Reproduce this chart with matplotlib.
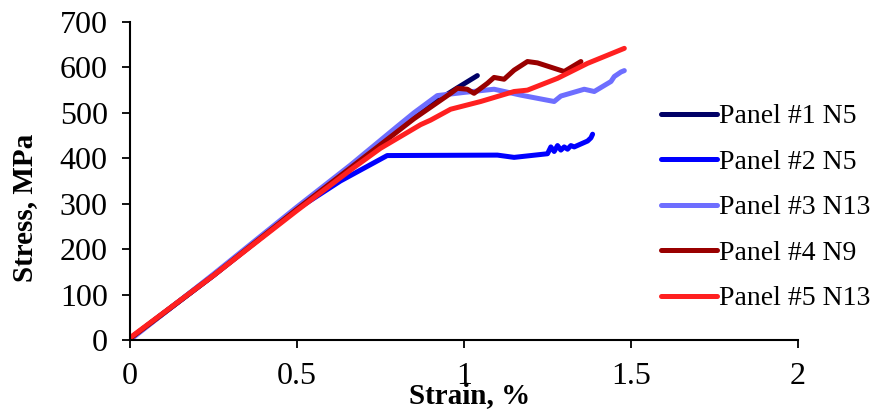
import matplotlib
matplotlib.use("Agg")
import matplotlib.pyplot as plt

# Data (strain %, stress MPa)
p1_x = [0.0, 0.25, 0.5, 0.75, 0.9, 0.98, 1.04]
p1_y = [3, 143, 290, 435, 518, 555, 582]

p2_x = [0.0, 0.25, 0.5, 0.63, 0.77, 1.10, 1.15, 1.25, 1.26, 1.27, 1.28, 1.29, 1.30, 1.31, 1.32, 1.33, 1.37, 1.38, 1.385]
p2_y = [3, 142, 288, 350, 406, 407, 402, 410, 425, 415, 428, 418, 425, 420, 428, 425, 438, 445, 453]

p3_x = [0.0, 0.25, 0.5, 0.66, 0.8, 0.85, 0.92, 1.0, 1.09, 1.17, 1.27, 1.29, 1.36, 1.39, 1.44, 1.45, 1.47, 1.48]
p3_y = [0, 145, 293, 385, 470, 500, 538, 545, 552, 539, 525, 537, 552, 547, 569, 580, 590, 593]

p4_x = [0.0, 0.25, 0.5, 0.75, 0.85, 0.96, 0.98, 1.01, 1.03, 1.07, 1.09, 1.12, 1.15, 1.19, 1.22, 1.30, 1.35]
p4_y = [3, 142, 288, 430, 487, 543, 554, 552, 543, 565, 578, 574, 594, 613, 610, 591, 613]

p5_x = [0.0, 0.25, 0.5, 0.66, 0.75, 0.87, 0.9, 0.96, 1.05, 1.15, 1.19, 1.28, 1.37, 1.48]
p5_y = [5, 142, 285, 374, 422, 474, 484, 508, 525, 547, 550, 576, 609, 642]

labels = ["Panel #1 N5", "Panel #2 N5", "Panel #3 N13", "Panel #4 N9", "Panel #5 N13"]
colors = ["#000066", "#0000ff", "#6e6eff", "#990000", "#ff2020"]
xticks = [0, 0.5, 1, 1.5, 2]
xticklabels = ["0", "0.5", "1", "1.5", "2"]
yticks = [0, 100, 200, 300, 400, 500, 600, 700]

plt.rcParams['font.family'] = ['Liberation Serif', 'DejaVu Serif']

fig = plt.figure(figsize=(8.81, 4.12), dpi=100)
ax = fig.add_axes([130/881, 1-340/412, (798-130)/881, (340-22)/412])

series = [(p1_x, p1_y), (p2_x, p2_y), (p3_x, p3_y), (p4_x, p4_y), (p5_x, p5_y)]
handles = []
for (xs, ys), c, lab in zip(series, colors, labels):
    h, = ax.plot(xs, ys, color=c, lw=3.6, solid_capstyle='round', solid_joinstyle='round', label=lab)
    handles.append(h)

ax.set_xlim(0, 2)
ax.set_ylim(0, 700)
ax.set_xticks(xticks)
ax.set_xticklabels(xticklabels)
ax.set_yticks(yticks)
ax.tick_params(direction='out', length=6, width=1.3, labelsize=23, pad=10)
for s in ['top', 'right']:
    ax.spines[s].set_visible(False)
for s in ['left', 'bottom']:
    ax.spines[s].set_linewidth(1.5)

ax.set_xlabel("Strain, %", fontsize=21, fontweight='bold', va='center')
ax.xaxis.set_label_coords((470-130)/668, -(396-340)/318)
ax.set_ylabel("Stress, MPa", fontsize=21, fontweight='bold', va='center')
ax.yaxis.set_label_coords(-(130-25)/668, (340-208)/318)

leg = ax.legend(handles=handles, loc='upper left', bbox_to_anchor=((661-130)/668, (340-104)/318),
                frameon=False, fontsize=20, handlelength=2.0, handletextpad=0.1,
                labelspacing=0.72, borderaxespad=0, borderpad=0)

fig.savefig("out.png", dpi=100)
